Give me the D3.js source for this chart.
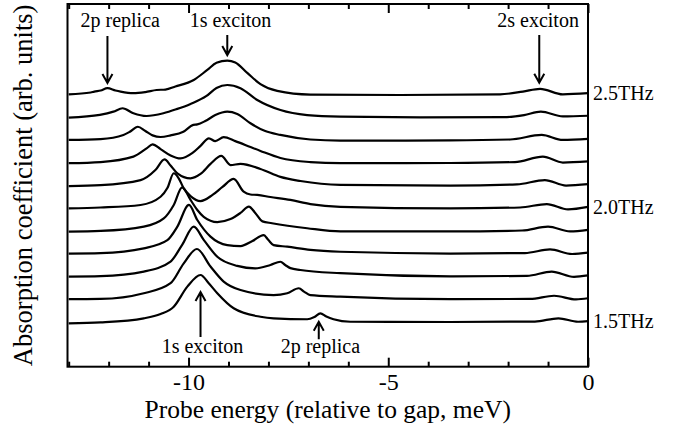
<!DOCTYPE html>
<html>
<head>
<meta charset="utf-8">
<script src="https://cdn.jsdelivr.net/npm/d3@7"></script>
<style>
  body { margin: 0; background: #fff; }
  text { font-family: "Liberation Serif", "Times New Roman", serif; fill: #000; }
</style>
</head>
<body>
<div id="chart"></div>
<script>
// spectra, top (2.5THz) to bottom (1.5THz): [energy meV, absorption arb.]
const freqs = ['2.5THz', '2.4THz', '2.3THz', '2.2THz', '2.1THz', '2.0THz', '1.9THz', '1.8THz', '1.7THz', '1.6THz', '1.5THz']
const labelled = ['2.5THz', '2.0THz', '1.5THz']

const s25 = [[-13, -0.06], [-12.45, 0.02], [-12.36, 0.06], [-12.2, 0.11], [-12.03, 0.21], [-11.83, 0.11], [-11.7, 0.06], [-11.38, -0.01],
  [-11.08, 0.04], [-10.8, 0.13], [-10.58, 0.15], [-10.33, 0.28], [-9.87, 0.57], [-9.53, 1.01], [-9.3, 1.32], [-9.03, 1.42],
  [-8.83, 1.34], [-8.53, 0.88], [-8.2, 0.39], [-7.78, 0.09], [-6.95, -0.07], [-4.7, -0.09], [-2.2, -0.06], [-1.63, 0.06],
  [-1.2, 0.18], [-0.63, -0.06], [0, -0.01]]
const s24 = [[-13, -0.08], [-12.22, 0.04], [-11.88, 0.18], [-11.65, 0.33], [-11.38, 0.11], [-11.05, -0.01], [-10.63, 0.11],
  [-10.3, 0.29], [-9.95, 0.52], [-9.55, 0.87], [-9.3, 1.22], [-9.03, 1.35], [-8.7, 1.21], [-8.28, 0.69], [-7.7, 0.25],
  [-7.03, 0.03], [-6.2, -0.04], [-4.2, -0.07], [-2.1, -0.06], [-1.6, 0.03], [-1.18, 0.18], [-0.63, -0.03], [0, 0]]
const s23 = [[-13, -0.06], [-12.2, -0.02], [-11.63, 0.16], [-11.47, 0.3], [-11.27, 0.52], [-11.08, 0.33], [-10.9, 0.14],
  [-10.7, 0.07], [-10.45, 0.14], [-10.13, 0.3], [-9.88, 0.6], [-9.78, 0.62], [-9.58, 0.77], [-9.33, 1.03], [-9.03, 1.18],
  [-8.78, 1.08], [-8.45, 0.67], [-8.08, 0.33], [-7.7, 0.16], [-6.95, -0.04], [-6.2, -0.09], [-3.45, -0.08], [-1.95, -0.04],
  [-1.16, 0.16], [-0.63, -0.06], [0, -0.01]]
const s22 = [[-13, -0.08], [-12.2, -0.03], [-11.38, 0.21], [-11.05, 0.57], [-10.9, 0.75], [-10.7, 0.54], [-10.45, 0.26],
  [-10.2, 0.13], [-9.9, 0.37], [-9.7, 0.68], [-9.49, 1.01], [-9.33, 0.89], [-9.12, 1.06], [-8.83, 0.89], [-8.45, 0.63],
  [-8.2, 0.46], [-7.7, 0.15], [-6.95, -0.03], [-6.2, -0.08], [-3.45, -0.07], [-1.83, -0.03], [-1.13, 0.21], [-0.63, -0.05], [0, 0]]
const s21 = [[-13, -0.08], [-12.2, -0.04], [-11.2, 0.18], [-10.83, 0.62], [-10.6, 1.09], [-10.45, 0.82], [-10.28, 0.48],
  [-9.95, 0.26], [-9.7, 0.45], [-9.45, 0.89], [-9.18, 1.24], [-8.95, 0.84], [-8.7, 0.89], [-8.2, 0.67], [-7.7, 0.32],
  [-7.2, 0.14], [-6.2, -0.03], [-3.45, -0.06], [-1.78, -0.01], [-1.08, 0.18], [-0.55, -0.06], [0, 0]]
const s20 = [[-13, -0.06], [-12.2, -0.02], [-11.2, 0.09], [-10.7, 0.45], [-10.53, 0.83], [-10.37, 1.48], [-10.25, 1.27],
  [-10.12, 0.82], [-9.95, 0.48], [-9.7, 0.26], [-9.4, 0.53], [-9.15, 0.88], [-8.87, 1.23], [-8.62, 0.67], [-8.45, 0.55],
  [-8.28, 0.53], [-7.95, 0.44], [-7.45, 0.31], [-6.95, 0.13], [-6.2, 0.01], [-3.45, -0.06], [-1.7, -0.02], [-1.03, 0.13],
  [-0.5, -0.1], [0, 0.01]]
const s19 = [[-13, -0.08], [-12.2, -0.05], [-11.12, 0.14], [-10.62, 0.5], [-10.37, 1.09], [-10.16, 1.86], [-9.95, 1.31],
  [-9.78, 0.87], [-9.62, 0.57], [-9.28, 0.34], [-8.95, 0.47], [-8.7, 0.74], [-8.49, 1.02], [-8.33, 0.74], [-8.15, 0.37],
  [-7.91, 0.29], [-7.03, 0.07], [-6.2, -0.07], [-3.45, -0.07], [-1.65, -0.03], [-1.0, 0.14], [-0.45, -0.07], [0, 0]]
const s18 = [[-13, -0.04], [-12.2, -0.02], [-11.12, 0.19], [-10.53, 0.55], [-10.28, 1.14], [-9.99, 2.09], [-9.78, 1.43],
  [-9.45, 0.7], [-9.03, 0.33], [-8.7, 0.29], [-8.4, 0.51], [-8.12, 0.77], [-8.0, 0.55], [-7.87, 0.33], [-7.53, 0.26],
  [-6.95, 0.12], [-6.2, 0.04], [-3.45, -0.04], [-1.58, -0.02], [-0.95, 0.14], [-0.4, -0.06], [0, 0]]
const s17 = [[-13, -0.05], [-12.2, -0.03], [-11.12, 0.17], [-10.45, 0.61], [-10.16, 1.34], [-9.87, 2.14], [-9.62, 1.56],
  [-9.28, 0.82], [-8.78, 0.42], [-8.33, 0.31], [-7.95, 0.46], [-7.7, 0.6], [-7.58, 0.46], [-7.45, 0.32], [-7.2, 0.24],
  [-6.2, 0.1], [-3.45, -0.04], [-1.53, -0.02], [-0.91, 0.17], [-0.35, -0.06], [0, 0]]
const s16 = [[-13, -0.04], [-12.2, -0.03], [-11.12, 0.22], [-10.45, 0.66], [-10.12, 1.53], [-9.79, 2.16], [-9.45, 1.39],
  [-9.12, 0.73], [-8.7, 0.36], [-7.87, 0.14], [-7.53, 0.22], [-7.24, 0.44], [-7.1, 0.28], [-6.95, 0.14], [-6.2, 0.07],
  [-3.45, -0.04], [-1.45, -0.03], [-0.85, 0.11], [-0.3, -0.05], [0, 0]]
const s15 = [[-13, -0.1], [-12.2, -0.06], [-11.12, 0.12], [-10.7, 0.31], [-10.37, 0.63], [-10.03, 1.51], [-9.7, 2.02],
  [-9.5, 1.67], [-9.28, 1.22], [-8.87, 0.56], [-8.2, 0.19], [-7.87, 0.12], [-7.03, 0.08], [-6.85, 0.18], [-6.7, 0.34],
  [-6.55, 0.2], [-6.37, 0.08], [-5.95, -0.03], [-3.45, -0.04], [-1.33, -0.02], [-0.74, 0.12], [-0.25, -0.03], [0, 0]]
const spectra = [s25, s24, s23, s22, s21, s20, s19, s18, s17, s16, s15]

const majorTicks = [-10, -5, 0]
const minorTicks = [-13, -12, -11, -9, -8, -7, -6, -4, -3, -2, -1]

// peak markers: text, text centre, arrow energy, arrow start / tip (arb. units)
const notes = [
  { text: '2p replica', tx: -11.71, e: -12.03, from: 12.5, to: 10.44, ty: 12.89 },
  { text: '1s exciton', tx: -8.95, e: -9.03, from: 12.54, to: 11.66, ty: 12.89 },
  { text: '2s exciton', tx: -1.25, e: -1.22, from: 12.54, to: 10.45, ty: 12.89 },
  { text: '1s exciton', tx: -9.65, e: -9.7, from: -0.7, to: 1.27, ty: -1.4 },
  { text: '2p replica', tx: -6.7, e: -6.74, from: -0.8, to: -0.03, ty: -1.4 }
]

const width = 683
const height = 428

const svg = d3.select('#chart')
              .append('svg')
              .attr('width', width)
              .attr('height', height)

svg.append('rect').attr('width', width).attr('height', height).attr('fill', '#fff')

const x = d3.scaleLinear()
            .domain([-13.03, 0])
            .range([67.5, 588])

const y = d3.scaleLinear()
            .domain([-2.0, 13.9])
            .range([366.7, 4])

const [x0, x1] = x.range()
const [yb, yt] = y.range()

// ticks (inward, top and bottom)
const addAxis = (axisFn, pos, values, size, labels) => {
  const g = svg.append('g')
     .attr('transform', `translate(0, ${pos})`)
     .call(axisFn(x).tickValues(values).tickSize(size).tickPadding(6)
       .tickFormat(labels ? (d => String(d)) : ''))
  g.select('.domain').remove()
  g.selectAll('line').attr('stroke', '#000').attr('stroke-width', 2)
  g.selectAll('text').attr('font-size', 24).attr('fill', '#000')
     .attr('font-family', '"Liberation Serif", "Times New Roman", serif')
  return g
}
addAxis(d3.axisBottom, yb, minorTicks, -5, false)
addAxis(d3.axisBottom, yb, majorTicks, -9, true)
addAxis(d3.axisTop, yt, minorTicks, -5, false)
addAxis(d3.axisTop, yt, majorTicks, -9, false)

// curves
const line = d3.line()
               .x(d => x(d[0]))
               .y(d => y(d[1]))
               .curve(d3.curveMonotoneX)

const n = spectra.length
svg.append('g')
   .selectAll('path')
   .data(spectra)
   .enter().append('path')
   .attr('d', (d, i) => line(d.map(p => [p[0], p[1] + (n - 1 - i)])))
   .attr('fill', 'none')
   .attr('stroke', '#000')
   .attr('stroke-width', 2.2)
   .attr('stroke-linejoin', 'round')

// frame
svg.append('rect')
   .attr('x', x0).attr('y', yt)
   .attr('width', x1 - x0).attr('height', yb - yt)
   .attr('fill', 'none')
   .attr('stroke', '#000')
   .attr('stroke-width', 2)

// frequency labels
svg.selectAll('.flabel')
   .data(labelled)
   .enter().append('text')
   .attr('class', 'flabel')
   .attr('x', x1 + 5)
   .attr('y', d => y(n - 1 - freqs.indexOf(d)))
   .attr('dy', '0.35em')
   .attr('font-size', 20)
   .text(d => d)

// annotations
const ann = svg.append('g')
notes.forEach(d => {
  ann.append('text')
     .attr('x', x(d.tx)).attr('y', y(d.ty))
     .attr('text-anchor', 'middle')
     .attr('font-size', 20)
     .text(d.text)
  const ax = x(d.e), ya = y(d.from), yt2 = y(d.to)
  const dir = yt2 > ya ? 1 : -1
  ann.append('path')
     .attr('d', `M${ax},${ya}L${ax},${yt2}M${ax - 5},${yt2 - dir * 9}L${ax},${yt2}L${ax + 5},${yt2 - dir * 9}`)
     .attr('fill', 'none')
     .attr('stroke', '#000')
     .attr('stroke-width', 2)
})

// axis titles
svg.append('text')
   .attr('x', (x0 + x1) / 2)
   .attr('y', 418)
   .attr('text-anchor', 'middle')
   .attr('font-size', 25.5)
   .text('Probe energy (relative to gap, meV)')

svg.append('text')
   .attr('transform', `translate(31.5, ${(yb + yt) / 2}) rotate(-90)`)
   .attr('text-anchor', 'middle')
   .attr('font-size', 26.5)
   .text('Absorption coefficient (arb. units)')
</script>
</body>
</html>
